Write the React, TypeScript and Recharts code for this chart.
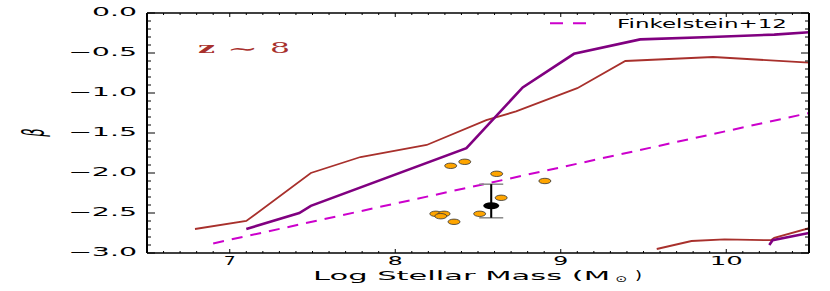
import React from "react";
import { ComposedChart, Line, Scatter, XAxis, YAxis, ErrorBar } from "recharts";

const W = 830;
const H = 291;
const BROWN = "#a8302c";
const PURPLE = "#800080";
const MAGENTA = "#cc00cc";
const FONT = "DejaVu Sans";

// axis ticks
const xMajor = [7, 8, 9, 10];
const xTickLabels = ["7", "8", "9", "10"];
const xLabelW = [12, 15, 15, 33];
const yMajor = [0, -0.5, -1, -1.5, -2, -2.5, -3];
const yTickLabels = ["0.0", "−0.5", "−1.0", "−1.5", "−2.0", "−2.5", "−3.0"];
const yLabelW = [45, 69, 69, 69, 69, 69, 69];

const xMinor: number[] = [];
for (let i = 65; i <= 105; i++) xMinor.push(i / 10);
const yMinor: number[] = [];
for (let i = 0; i <= 30; i++) yMinor.push(-i / 10);

// model curves
const redUpper = [
  { x: 6.79, y: -2.7 },
  { x: 7.1, y: -2.6 },
  { x: 7.49, y: -2.0 },
  { x: 7.79, y: -1.8 },
  { x: 8.19, y: -1.65 },
  { x: 8.55, y: -1.34 },
  { x: 8.73, y: -1.23 },
  { x: 9.1, y: -0.94 },
  { x: 9.39, y: -0.6 },
  { x: 9.92, y: -0.55 },
  { x: 10.5, y: -0.62 },
];

const purpleUpper = [
  { x: 7.1, y: -2.7 },
  { x: 7.42, y: -2.5 },
  { x: 7.49, y: -2.41 },
  { x: 8.43, y: -1.69 },
  { x: 8.77, y: -0.93 },
  { x: 9.08, y: -0.51 },
  { x: 9.48, y: -0.33 },
  { x: 9.91, y: -0.3 },
  { x: 10.29, y: -0.27 },
  { x: 10.5, y: -0.24 },
];

const redLower = [
  { x: 9.58, y: -2.95 },
  { x: 9.79, y: -2.85 },
  { x: 9.99, y: -2.83 },
  { x: 10.27, y: -2.84 },
  { x: 10.29, y: -2.81 },
  { x: 10.5, y: -2.69 },
];

const purpleLower = [
  { x: 10.26, y: -2.9 },
  { x: 10.28, y: -2.84 },
  { x: 10.5, y: -2.75 },
];

const finkelstein = [
  { x: 6.9, y: -2.88 },
  { x: 10.5, y: -1.25 },
];

// individual galaxies
const galaxies = [
  { x: 8.335, y: -1.91 },
  { x: 8.42, y: -1.86 },
  { x: 8.613, y: -2.01 },
  { x: 8.904, y: -2.1 },
  { x: 8.64, y: -2.31 },
  { x: 8.51, y: -2.51 },
  { x: 8.245, y: -2.51 },
  { x: 8.295, y: -2.51 },
  { x: 8.275, y: -2.54 },
  { x: 8.355, y: -2.61 },
];

// stacked point, error = [down, up]
const stacked = [{ x: 8.58, y: -2.41, err: [0.15, 0.27] }];

const near = (a: number, b: number) => Math.abs(a - b) < 1e-6;

function BottomTick(props: any) {
  const { x, y, payload } = props;
  const i = xMajor.findIndex((m) => near(m, payload.value));
  return (
    <g>
      <line x1={x} x2={x} y1={y} y2={y - (i >= 0 ? 4 : 2)} stroke="#000" strokeWidth={1} />
      {i >= 0 && (
        <text x={x} y={y + 12} textAnchor="middle" fontSize={13} fontFamily={FONT} fill="#000"
          textLength={xLabelW[i]} lengthAdjust="spacingAndGlyphs">
          {xTickLabels[i]}
        </text>
      )}
    </g>
  );
}

function TopTick(props: any) {
  const { x, y, payload } = props;
  const major = xMajor.some((m) => near(m, payload.value));
  return <line x1={x} x2={x} y1={y} y2={y + (major ? 4 : 2)} stroke="#000" strokeWidth={1} />;
}

function LeftTick(props: any) {
  const { x, y, payload } = props;
  const i = yMajor.findIndex((m) => near(m, payload.value));
  return (
    <g>
      <line x1={x} x2={x + (i >= 0 ? 8 : 4)} y1={y} y2={y} stroke="#000" strokeWidth={1} />
      {i >= 0 && (
        <text x={x - 10} y={y + 3} textAnchor="end" fontSize={12} fontFamily={FONT} fill="#000"
          textLength={yLabelW[i]} lengthAdjust="spacingAndGlyphs">
          {yTickLabels[i]}
        </text>
      )}
    </g>
  );
}

function RightTick(props: any) {
  const { x, y, payload } = props;
  const major = yMajor.some((m) => near(m, payload.value));
  return <line x1={x} x2={x - (major ? 8 : 4)} y1={y} y2={y} stroke="#000" strokeWidth={1} />;
}

const GalaxyDot = (props: any) => (
  <ellipse cx={props.cx} cy={props.cy} rx={6} ry={2.7} fill="#ffa500" stroke="#333" strokeWidth={0.8} />
);

const StackDot = (props: any) => (
  <ellipse cx={props.cx} cy={props.cy} rx={8} ry={3.5} fill="#000" />
);

export default function App() {
  return (
    <div style={{ position: "relative", width: W, height: H }}>
      <style>{"body{margin:0}"}</style>
      <ComposedChart width={W} height={H} margin={{ top: 12, right: 20, bottom: 37, left: 146 }}>
        <XAxis xAxisId={0} type="number" dataKey="x" domain={[6.5, 10.5]} allowDataOverflow
          ticks={xMinor} interval={0} tickSize={0} tickMargin={0} height={1}
          tickLine={false} tick={<BottomTick />} axisLine={{ stroke: "#000", strokeWidth: 1.5 }} />
        <XAxis xAxisId="top" orientation="top" type="number" dataKey="x" domain={[6.5, 10.5]} allowDataOverflow
          ticks={xMinor} interval={0} tickSize={0} tickMargin={0} height={1}
          tickLine={false} tick={<TopTick />} axisLine={{ stroke: "#000", strokeWidth: 1.5 }} />
        <YAxis yAxisId={0} type="number" domain={[-3, 0]} allowDataOverflow
          ticks={yMinor} interval={0} tickSize={0} tickMargin={0} width={1}
          tickLine={false} tick={<LeftTick />} axisLine={{ stroke: "#000", strokeWidth: 2 }} />
        <YAxis yAxisId="right" orientation="right" type="number" domain={[-3, 0]} allowDataOverflow
          ticks={yMinor} interval={0} tickSize={0} tickMargin={0} width={1}
          tickLine={false} tick={<RightTick />} axisLine={{ stroke: "#000", strokeWidth: 2 }} />

        <Line data={finkelstein} dataKey="y" type="linear" stroke={MAGENTA} strokeWidth={2}
          strokeDasharray="11 8" dot={false} isAnimationActive={false} />
        <Line data={redUpper} dataKey="y" type="linear" stroke={BROWN} strokeWidth={1.8}
          dot={false} isAnimationActive={false} />
        <Line data={purpleUpper} dataKey="y" type="linear" stroke={PURPLE} strokeWidth={2.6}
          dot={false} isAnimationActive={false} />
        <Line data={redLower} dataKey="y" type="linear" stroke={BROWN} strokeWidth={1.8}
          dot={false} isAnimationActive={false} />
        <Line data={purpleLower} dataKey="y" type="linear" stroke={PURPLE} strokeWidth={2.6}
          dot={false} isAnimationActive={false} />

        <Scatter data={galaxies} dataKey="y" shape={GalaxyDot} isAnimationActive={false} />
        <Scatter data={stacked} dataKey="y" shape={StackDot} isAnimationActive={false}>
          <ErrorBar dataKey="err" direction="y" width={12} stroke="#888" strokeWidth={1.5} isAnimationActive={false} />
          <ErrorBar dataKey="err" direction="y" width={0} stroke="#000" strokeWidth={2} isAnimationActive={false} />
        </Scatter>
      </ComposedChart>

      <svg width={W} height={H} style={{ position: "absolute", left: 0, top: 0, pointerEvents: "none" }}>
        <text transform="translate(44,132.5) scale(2.3,1) rotate(-90)" textAnchor="middle"
          fontSize={13} fontStyle="italic" fontFamily={FONT} fill="#000">β</text>

        <text x={313} y={279.5} fontSize={13} fontFamily={FONT} fill="#000"
          textLength={297} lengthAdjust="spacingAndGlyphs">Log Stellar Mass (M</text>
        <text x={621} y={281.5} fontSize={9} textAnchor="middle" fontFamily={FONT} fill="#000"
          textLength={12} lengthAdjust="spacingAndGlyphs">⊙</text>
        <text x={635} y={279.5} fontSize={13} fontFamily={FONT} fill="#000"
          textLength={7} lengthAdjust="spacingAndGlyphs">)</text>

        <line x1={550} x2={586} y1={23.3} y2={23.3} stroke={MAGENTA} strokeWidth={2} strokeDasharray="13 10" />
        <text x={617} y={27.5} fontSize={13} fontFamily={FONT} fill="#000"
          textLength={170} lengthAdjust="spacingAndGlyphs">Finkelstein+12</text>

        <text x={198} y={53} fontSize={14} fontWeight="bold" fontFamily="DejaVu Serif" fill={BROWN}
          textLength={17} lengthAdjust="spacingAndGlyphs">z</text>
        <text x={227} y={55} fontSize={18} fontFamily="DejaVu Serif" fill={BROWN}
          textLength={31} lengthAdjust="spacingAndGlyphs">∼</text>
        <text x={270} y={53} fontSize={14} fontFamily="DejaVu Serif" fill={BROWN}
          textLength={20} lengthAdjust="spacingAndGlyphs">8</text>
      </svg>
    </div>
  );
}
